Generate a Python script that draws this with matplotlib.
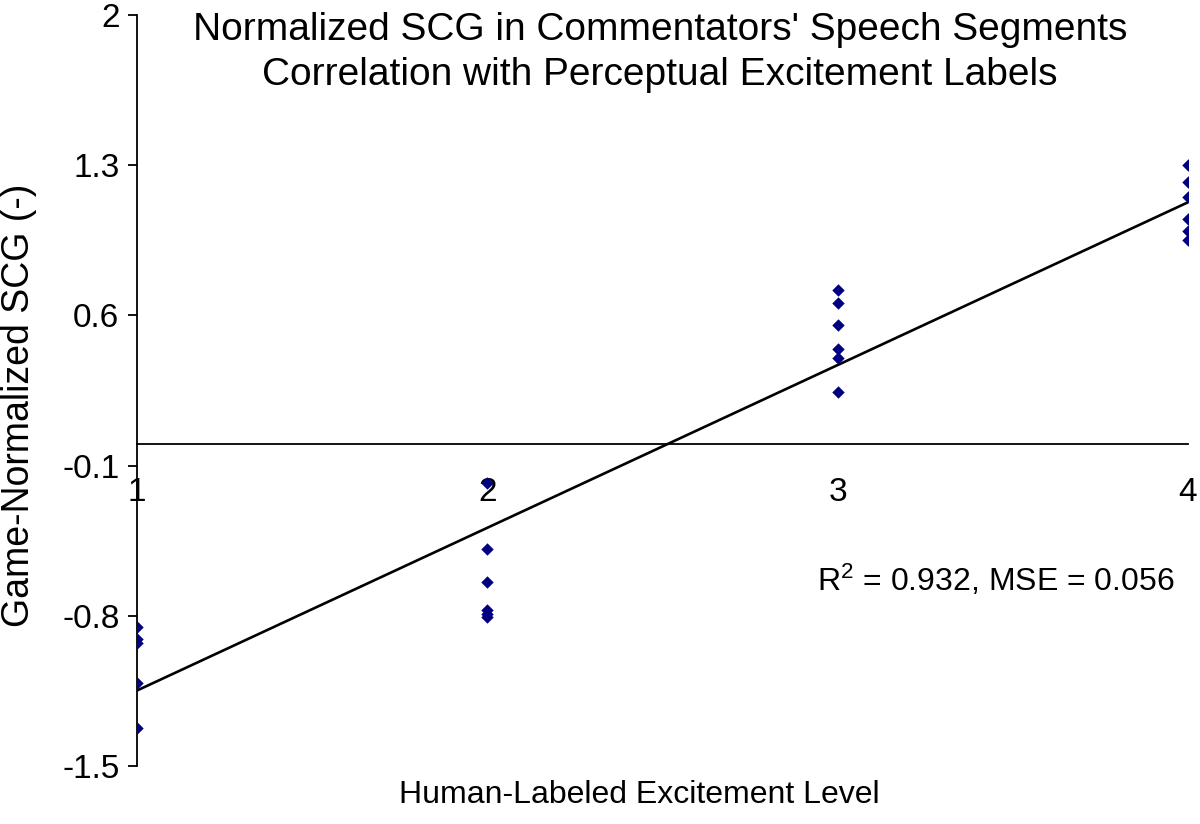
import numpy as np
import matplotlib
matplotlib.use("Agg")
import matplotlib.pyplot as plt

plt.rcParams['font.family'] = ['Liberation Sans', 'DejaVu Sans']
plt.rcParams['mathtext.default'] = 'regular'

# values
level_1 = [-0.852, -0.908, -0.926, -1.113, -1.322]
level_2 = [-0.181, -0.488, -0.642, -0.773, -0.791, -0.805]
level_3 = [0.719, 0.658, 0.555, 0.444, 0.402, 0.243]
level_4 = [1.301, 1.222, 1.152, 1.049, 0.993, 0.952]

levels = [1, 2, 3, 4]
y_ticks = [-1.5, -0.8, -0.1, 0.6, 1.3, 2]
y_tick_labels = ['-1.5', '-0.8', '-0.1', '0.6', '1.3', '2']

xs = []
ys = []
for lvl, vals in zip(levels, [level_1, level_2, level_3, level_4]):
    xs += [lvl] * len(vals)
    ys += vals
xs = np.array(xs)
ys = np.array(ys)

fig = plt.figure(figsize=(12, 8.24), dpi=100)
ax = fig.add_axes([0.114, 0.0704, 0.876, 0.9114])

ax.scatter(xs, ys, marker='D', s=40, color='#000080', zorder=3, linewidths=0)

# linear trend line
slope, intercept = np.polyfit(xs, ys, 1)
line_x = np.array([1, 4])
ax.plot(line_x, slope * line_x + intercept, color='black', lw=1.9, zorder=2)

ax.set_xlim(1, 4)
ax.set_ylim(-1.5, 2)

ax.spines['top'].set_visible(False)
ax.spines['right'].set_visible(False)
ax.spines['bottom'].set_position(('data', 0))
ax.spines['left'].set_linewidth(1.3)
ax.spines['bottom'].set_linewidth(1.3)

ax.set_xticks(levels)
ax.set_xticklabels([str(l) for l in levels])
ax.tick_params(axis='x', length=0, pad=24, labelsize=24)
ax.set_yticks(y_ticks)
ax.set_yticklabels(y_tick_labels)
ax.tick_params(axis='y', length=6.5, width=1.3, pad=6, labelsize=24)

ax.set_xlabel('Human-Labeled Excitement Level', fontsize=23, labelpad=0)
ax.xaxis.label.set_va('baseline')
ax.xaxis.set_label_coords(0.478, -0.049)
ax.set_ylabel('Game-Normalized SCG (-)', fontsize=27)
ax.yaxis.set_label_coords(-0.095, 0.48)

fig.text(0.55, 0.985, "Normalized SCG in Commentators' Speech Segments\n"
         "Correlation with Perceptual Excitement Labels",
         ha='center', va='top', fontsize=28, linespacing=1.3)

ax.text(2.94, -0.633, 'R$^2$ = 0.932, MSE = 0.056', fontsize=23,
        ha='left', va='center')

fig.savefig('out.png', dpi=100)
